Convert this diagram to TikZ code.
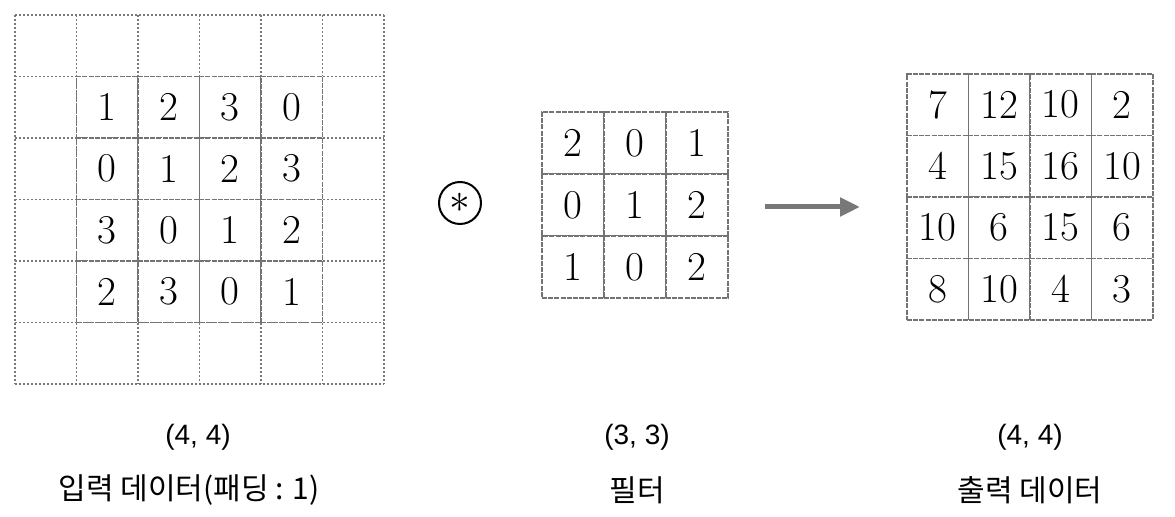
\documentclass[tikz,border=0pt]{standalone}
\usepackage{fontspec}
\newfontfamily\krfont{Noto Sans CJK KR}
\newfontfamily\labfont{Liberation Sans}
\usepackage{tikz}
\usetikzlibrary{arrows.meta}
\definecolor{GridGray}{RGB}{115,115,115}
\definecolor{PadGray}{RGB}{120,120,120}
\definecolor{ArrowGray}{RGB}{120,120,120}

\begin{document}
\begin{tikzpicture}[x=0.5pt,y=-0.5pt,
  cell/.style={draw=GridGray,dash pattern=on 2.5pt off 0.6pt,fill=white,line width=0.9pt,
    minimum size=30.75pt,inner sep=0pt,font=\fontsize{20.5}{22}\selectfont},
  fcell/.style={cell,minimum size=31pt},
  pad/.style={draw=PadGray,dash pattern=on 0.8pt off 1.2pt,line width=0.7pt},
  dimlabel/.style={font=\labfont\fontsize{14}{16}\selectfont},
  caption/.style={font=\krfont\fontsize{15}{18}\selectfont},
  arr/.style={-{Triangle[length=10pt,width=9pt]},line width=2.5pt,ArrowGray},
]
\useasboundingbox (0,0) rectangle (1175,517);

% --- padding grid (6x6) ---
\foreach \k in {0,...,6}{
  \draw[pad] (15+61.5*\k,15) -- (15+61.5*\k,384);
  \draw[pad] (15,15+61.5*\k) -- (384,15+61.5*\k);
}

% --- input data ---
\foreach \row [count=\r] in {{1,2,3,0},{0,1,2,3},{3,0,1,2},{2,3,0,1}}
  \foreach \v [count=\c] in \row
    \node[cell] (in-\r-\c) at (15+61.5*\c+30.75,15+61.5*\r+30.75) {\v};

% --- convolution sign ---
\node[draw,circle,line width=1pt,minimum size=21pt,inner sep=0pt,
  font=\fontsize{20}{22}\selectfont] (conv) at (460,203) {$\ast$};

% --- filter ---
\foreach \row [count=\r] in {{2,0,1},{0,1,2},{1,0,2}}
  \foreach \v [count=\c] in \row
    \node[fcell] (f-\r-\c) at (542+62*\c-31,112+62*\r-31) {\v};

% --- output data ---
\foreach \row [count=\r] in {{7,12,10,2},{4,15,16,10},{10,6,15,6},{8,10,4,3}}
  \foreach \v [count=\c] in \row
    \node[cell] (out-\r-\c) at (907+61.5*\c-30.75,74+61.5*\r-30.75) {\v};

% --- arrow ---
\coordinate (arrS) at (765,207);
\coordinate (arrE) at (860,207);
\draw[arr] (arrS) -- (arrE);

% --- captions ---
\node[dimlabel] (in-dim) at (198,437) {(4, 4)};
\node[caption] (in-cap) at (189,490) {입력 데이터(패딩 : 1)};
\node[dimlabel] (f-dim) at (637,437) {(3, 3)};
\node[caption] (f-cap) at (637,490) {필터};
\node[dimlabel] (out-dim) at (1030,437) {(4, 4)};
\node[caption] (out-cap) at (1030,490) {출력 데이터};
\end{tikzpicture}
\end{document}
